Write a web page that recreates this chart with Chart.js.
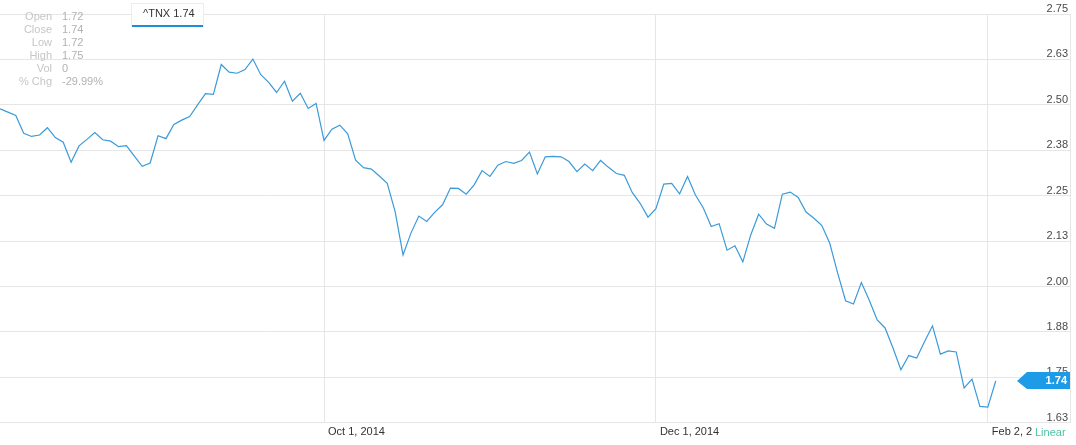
<!DOCTYPE html>
<html>
<head>
<meta charset="utf-8">
<script src="https://cdn.jsdelivr.net/npm/chart.js@4.4.1/dist/chart.umd.min.js"></script>
<style>
    html, body { margin: 0; padding: 0; background: #fff; }
    #wrap { width: 1076px; height: 445px; position: relative; }
</style>
</head>
<body>
<div id="wrap"><canvas id="tnxChart"></canvas></div>
<script>
// ^TNX daily closes, one per trading day (Aug 4, 2014 .. Feb 3, 2015)
const yields = [
    2.489, 2.480, 2.471, 2.422, 2.413, 2.417, 2.437, 2.410, 2.397, 2.342,
    2.387, 2.405, 2.424, 2.404, 2.400, 2.385, 2.388, 2.359, 2.331, 2.340,
    2.415, 2.407, 2.446, 2.458, 2.468, 2.500, 2.531, 2.529, 2.611, 2.590,
    2.587, 2.597, 2.626, 2.583, 2.562, 2.534, 2.565, 2.510, 2.532, 2.490,
    2.504, 2.402, 2.433, 2.444, 2.420, 2.348, 2.327, 2.323, 2.304, 2.284,
    2.206, 2.087, 2.147, 2.194, 2.179, 2.204, 2.225, 2.271, 2.270, 2.254,
    2.280, 2.319, 2.303, 2.334, 2.344, 2.339, 2.347, 2.370, 2.310, 2.357,
    2.358, 2.357, 2.344, 2.316, 2.337, 2.319, 2.347, 2.328, 2.311, 2.306,
    2.259, 2.229, 2.191, 2.214, 2.282, 2.284, 2.255, 2.303, 2.252, 2.216,
    2.165, 2.173, 2.100, 2.112, 2.068, 2.142, 2.199, 2.172, 2.160, 2.254,
    2.260, 2.245, 2.205, 2.188, 2.168, 2.119, 2.037, 1.961, 1.952, 2.011,
    1.962, 1.908, 1.886, 1.831, 1.771, 1.810, 1.803, 1.849, 1.892, 1.814,
    1.823, 1.820, 1.721, 1.745, 1.670, 1.668, 1.740
];

// x axis: trading-day index of each date label
const tickIndex = [41, 83, 125];
const tickLabels = ['Oct 1, 2014', 'Dec 1, 2014', 'Feb 2, 2'];

// y axis ticks
const yTicks = [1.625, 1.75, 1.875, 2, 2.125, 2.25, 2.375, 2.5, 2.625, 2.75];

// quote panel
const quoteLabels = ['Open', 'Close', 'Low', 'High', 'Vol', '% Chg'];
const quoteValues = ['1.72', '1.74', '1.72', '1.75', '0', '-29.99%'];
const symbol = '^TNX';

const lastValue = yields[yields.length - 1];
const FONT = '"Liberation Sans", Arial, sans-serif';
Chart.defaults.font.family = FONT;

// Quote panel, legend chip, last price tag and "Linear"
const overlay = {
    id: 'overlay',
    afterDraw(chart) {
        const ctx = chart.ctx;
        const yScale = chart.scales.y;
        ctx.save();
        ctx.font = '11px ' + FONT;
        ctx.textBaseline = 'middle';
        quoteLabels.forEach((lab, i) => {
            const ty = 16.5 + i * 13;
            ctx.fillStyle = '#c6c6c6';
            ctx.textAlign = 'right';
            ctx.fillText(lab, 52, ty);
            ctx.fillStyle = '#b2b2b2';
            ctx.textAlign = 'left';
            ctx.fillText(quoteValues[i], 62, ty);
        });

        // legend chip
        ctx.fillStyle = '#fff';
        ctx.strokeStyle = '#ececec';
        ctx.lineWidth = 1;
        ctx.fillRect(131.5, 3.5, 72, 23);
        ctx.strokeRect(131.5, 3.5, 72, 23);
        ctx.fillStyle = '#1a8fd8';
        ctx.fillRect(132, 25, 71, 2);
        ctx.fillStyle = '#333';
        ctx.textAlign = 'left';
        ctx.fillText(symbol + ' ' + lastValue.toFixed(2), 143, 14);

        // price tag
        const py = yScale.getPixelForValue(lastValue);
        const right = chart.chartArea.right;
        ctx.fillStyle = '#1e9be6';
        ctx.beginPath();
        ctx.moveTo(1017, py);
        ctx.lineTo(1027, py - 9);
        ctx.lineTo(right, py - 9);
        ctx.lineTo(right, py + 8);
        ctx.lineTo(1027, py + 8);
        ctx.closePath();
        ctx.fill();
        ctx.fillStyle = '#fff';
        ctx.font = 'bold 11px ' + FONT;
        ctx.textAlign = 'right';
        ctx.fillText(lastValue.toFixed(2), right - 3, py);

        ctx.font = '11px ' + FONT;
        ctx.fillStyle = '#4cc3a5';
        ctx.textAlign = 'left';
        ctx.fillText('Linear', 1035, 433);
        ctx.restore();
    }
};

new Chart(document.getElementById('tnxChart'), {
    type: 'line',
    data: {
        datasets: [{
            label: symbol,
            data: yields.map((v, i) => ({ x: i, y: v })),
            borderColor: '#3b9ad9',
            borderWidth: 1.2,
            pointRadius: 0,
            tension: 0,
            fill: false
        }]
    },
    options: {
        responsive: true,
        maintainAspectRatio: false,
        animation: false,
        layout: { padding: { top: 14, right: 2, bottom: 3, left: 0 } },
        plugins: {
            legend: { display: false },
            tooltip: { enabled: false }
        },
        scales: {
            x: {
                type: 'linear',
                min: 0,
                max: 135.4,
                afterBuildTicks: scale => {
                    scale.ticks = tickIndex.map(v => ({ value: v }));
                },
                grid: { color: '#e6e6e6', drawTicks: false },
                border: { color: '#e6e6e6' },
                ticks: {
                    align: 'start',
                    labelOffset: 4,
                    padding: 3,
                    maxRotation: 0,
                    autoSkip: false,
                    color: '#333',
                    font: { size: 11 },
                    callback: v => tickLabels[tickIndex.indexOf(v)]
                }
            },
            y: {
                position: 'right',
                min: 1.625,
                max: 2.75,
                afterBuildTicks: scale => {
                    scale.ticks = yTicks.map(v => ({ value: v }));
                },
                afterFit: scale => {
                    scale.width = 4;
                },
                grid: { color: '#e6e6e6', drawTicks: false },
                border: { color: '#e6e6e6' },
                ticks: {
                    mirror: true,
                    padding: -2,
                    labelOffset: -5,
                    color: '#4a4a4a',
                    font: { size: 11 },
                    callback: v => v.toFixed(2)
                }
            }
        }
    },
    plugins: [overlay]
});
</script>
</body>
</html>
